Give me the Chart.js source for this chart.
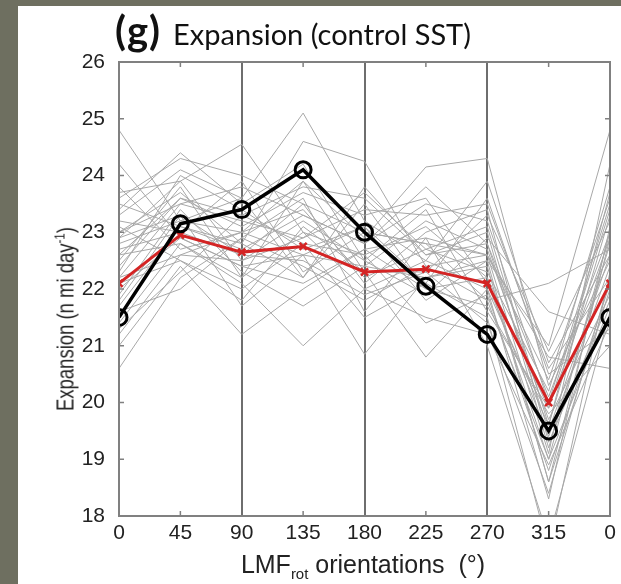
<!DOCTYPE html>
<html lang="en">
<head>
<meta charset="UTF-8">
<title>Expansion (control SST)</title>
<script src="https://cdn.jsdelivr.net/npm/chart.js@4.4.2/dist/chart.umd.min.js"></script>
<style>
  body {
    margin: 0;
    width: 621px;
    height: 584px;
    overflow: hidden;
    position: relative;
    background: #6e6f60;
    font-family: 'Liberation Sans', Arial, sans-serif;
    color: #222;
  }
  .panel { position: absolute; left: 18px; top: 6px; right: 0; bottom: 0; background: #fff; }
  .wrap { position: absolute; left: 0; top: 0; width: 621px; height: 584px; }
  .title { position: absolute; left: 115px; top: 6px; white-space: nowrap; font-family: Lato, 'Open Sans', sans-serif; color: #111; }
  .title b { font-size: 40px; font-weight: 700; letter-spacing: 1px; }
  .title span { font-size: 29px; margin-left: 12px; }
  .ylabel { position: absolute; left: 65px; top: 319px; transform: translate(-50%, -50%) rotate(-90deg) scaleX(0.77); font-size: 24px; white-space: nowrap; }
  .xlabel { position: absolute; left: 363px; top: 566px; transform: translate(-50%, -50%); font-size: 25px; white-space: nowrap; }
  .ylabel sup { font-size: 15px; }
  .xlabel sub { font-size: 15px; }
</style>
</head>
<body>
  <div class="panel"></div>
  <div class="wrap"><canvas id="chart" width="621" height="584"></canvas></div>
  <div class="title"><b>(g)</b><span>Expansion (control SST)</span></div>
  <div class="ylabel">Expansion (n mi day<sup>-1</sup>)</div>
  <div class="xlabel">LMF<sub>rot</sub> orientations &nbsp;(&deg;)</div>
<script>
// orientations (deg); 360 is labelled 0 again
const angles = [0, 45, 90, 135, 180, 225, 270, 315, 360];
const yTicks = [18, 19, 20, 21, 22, 23, 24, 25, 26];
const dividers = [90, 180, 270];

const control = [21.5, 23.15, 23.4, 24.1, 23.0, 22.05, 21.2, 19.5, 21.5];
const ensembleMean = [22.1, 22.95, 22.65, 22.75, 22.3, 22.35, 22.1, 20.0, 22.1];

// individual members (grey)
const m01 = [24.8, 23.2, 23.0, 22.6, 22.4, 22.2, 22.5, 21.0, 24.8];
const m02 = [23.6, 24.3, 24.0, 23.5, 23.0, 22.8, 22.6, 20.4, 23.6];
const m03 = [23.3, 24.1, 23.6, 25.1, 23.2, 22.5, 22.0, 19.6, 23.3];
const m04 = [22.9, 23.9, 24.55, 23.0, 22.6, 23.1, 22.2, 19.9, 22.9];
const m05 = [23.0, 23.7, 22.8, 24.6, 24.25, 22.4, 21.8, 19.0, 23.0];
const m06 = [22.5, 23.8, 22.2, 23.9, 22.9, 24.15, 24.3, 20.3, 22.5];
const m07 = [22.2, 23.5, 23.2, 22.9, 23.4, 23.3, 23.5, 20.6, 22.2];
const m08 = [21.8, 23.3, 22.6, 23.5, 22.1, 23.0, 23.4, 19.3, 21.8];
const m09 = [22.7, 23.0, 23.9, 22.3, 23.0, 22.8, 21.8, 22.1, 22.7];
const m10 = [21.2, 22.6, 22.5, 23.2, 22.5, 21.9, 22.9, 21.6, 21.2];
const m11 = [20.6, 22.2, 22.9, 22.4, 21.8, 22.4, 22.6, 20.8, 20.6];
const m12 = [21.0, 22.4, 21.2, 22.0, 22.7, 22.0, 21.7, 19.8, 21.0];
const m13 = [21.4, 22.8, 22.1, 21.0, 22.0, 21.5, 21.2, 18.9, 21.4];
const m14 = [22.0, 22.9, 22.4, 22.6, 20.85, 22.2, 22.4, 18.6, 22.0];
const m15 = [23.1, 22.5, 21.8, 23.1, 22.3, 20.8, 22.0, 18.3, 23.1];
const m16 = [22.6, 23.6, 23.3, 23.8, 23.6, 22.6, 22.8, 19.5, 22.6];
const m17 = [23.5, 23.1, 22.7, 23.3, 22.8, 23.5, 23.2, 20.0, 23.5];
const m18 = [22.3, 24.0, 23.4, 22.7, 23.1, 22.1, 21.5, 17.4, 22.3];
const m19 = [21.6, 22.0, 22.9, 23.6, 21.6, 22.9, 21.0, 17.6, 21.6];
const m20 = [22.8, 23.2, 23.6, 22.2, 23.8, 22.6, 23.0, 19.2, 22.8];
const m21 = [23.8, 22.7, 23.0, 23.4, 22.2, 22.7, 22.3, 20.2, 23.8];
const m22 = [22.1, 22.5, 22.0, 22.8, 22.6, 21.4, 21.9, 18.8, 22.1];
const m23 = [21.9, 23.4, 22.3, 21.7, 22.4, 23.2, 22.7, 19.7, 21.9];
const m24 = [23.2, 23.0, 22.6, 22.5, 21.9, 22.3, 23.3, 20.9, 23.2];
const m25 = [22.4, 23.6, 23.1, 23.7, 23.3, 23.6, 22.1, 19.4, 22.4];
const m26 = [24.2, 22.9, 22.4, 22.1, 22.7, 22.9, 22.6, 19.1, 24.2];
const m27 = [21.3, 22.3, 23.3, 22.8, 21.5, 22.1, 23.6, 20.5, 21.3];
const m28 = [22.9, 23.3, 21.7, 22.6, 23.1, 21.8, 22.5, 18.6, 22.9];
const m29 = [23.4, 24.4, 23.5, 24.2, 22.5, 23.4, 21.6, 19.9, 23.4];
const m30 = [22.6, 22.8, 22.2, 23.0, 22.0, 22.5, 23.9, 20.7, 22.6];
const m31 = [21.7, 23.1, 22.8, 22.2, 23.5, 22.0, 22.2, 19.0, 21.7];
const m32 = [23.0, 23.5, 23.8, 23.3, 22.8, 23.8, 22.8, 20.1, 23.0];
const m33 = [22.2, 22.6, 23.0, 23.9, 22.3, 22.3, 21.4, 18.4, 22.2];
const m34 = [23.7, 23.9, 22.5, 22.9, 23.7, 22.7, 23.1, 19.6, 23.7];
const members = [m01, m02, m03, m04, m05, m06, m07, m08, m09, m10, m11, m12,
  m13, m14, m15, m16, m17, m18, m19, m20, m21, m22, m23, m24,
  m25, m26, m27, m28, m29, m30, m31, m32, m33, m34];

const toPoints = vals => vals.map((v, i) => ({ x: angles[i], y: v }));

// box, inward tick marks (MATLAB style)
const framePlugin = {
  id: 'frame',
  afterDraw(chart) {
    const { ctx, chartArea: a, scales: { x, y } } = chart;
    ctx.save();
    ctx.strokeStyle = '#808080';
    ctx.lineWidth = 1.5;
    ctx.beginPath();
    y.ticks.forEach(t => {
      const py = y.getPixelForValue(t.value);
      ctx.moveTo(a.left, py); ctx.lineTo(a.left + 5, py);
      ctx.moveTo(a.right, py); ctx.lineTo(a.right - 5, py);
    });
    x.ticks.forEach(t => {
      if (dividers.includes(t.value) || t.value === x.min || t.value === x.max) return;
      const px = x.getPixelForValue(t.value);
      ctx.moveTo(px, a.top); ctx.lineTo(px, a.top + 5);
      ctx.moveTo(px, a.bottom); ctx.lineTo(px, a.bottom - 5);
    });
    ctx.stroke();
    ctx.lineWidth = 2;
    ctx.strokeRect(a.left, a.top, a.right - a.left, a.bottom - a.top);
    ctx.restore();
  }
};

const datasets = [
  {
    data: toPoints(control), borderColor: '#000', borderWidth: 3.5,
    pointStyle: 'circle', pointRadius: 8, pointBorderWidth: 3,
    pointBorderColor: '#000', pointBackgroundColor: 'rgba(0,0,0,0)'
  },
  {
    data: toPoints(ensembleMean), borderColor: '#d42424', borderWidth: 3,
    pointStyle: 'crossRot', pointRadius: 5, pointBorderWidth: 2.5,
    pointBorderColor: '#d42424'
  }
];
members.forEach(m => datasets.push({
  data: toPoints(m), borderColor: '#a8a8a8', borderWidth: 1, pointRadius: 0
}));

const font = { family: "'Liberation Sans', Arial, sans-serif", size: 21 };

new Chart(document.getElementById('chart'), {
  type: 'line',
  data: { datasets },
  options: {
    responsive: false,
    animation: false,
    events: [],
    layout: { padding: { left: 0, top: 62, right: 6, bottom: 0 } },
    plugins: { legend: { display: false }, tooltip: { enabled: false } },
    scales: {
      x: {
        type: 'linear', min: 0, max: 360,
        afterFit: s => { s.height = 68; s.paddingLeft = 0; s.paddingRight = 0; },
        afterBuildTicks: s => { s.ticks = angles.map(v => ({ value: v })); },
        ticks: {
          autoSkip: false, maxRotation: 0, padding: 5, color: '#222', font,
          callback: v => (v === 360 ? '0' : String(v))
        },
        grid: {
          drawTicks: false, lineWidth: 2,
          color: c => (c.tick && dividers.includes(c.tick.value) ? '#6e6e6e' : 'rgba(0,0,0,0)')
        },
        border: { display: false }
      },
      y: {
        min: 18, max: 26,
        afterFit: s => { s.width = 119; s.paddingTop = 0; s.paddingBottom = 0; },
        afterBuildTicks: s => { s.ticks = yTicks.map(v => ({ value: v })); },
        ticks: { padding: 6, color: '#222', font },
        grid: { display: false },
        border: { display: false }
      }
    }
  },
  plugins: [framePlugin]
});
</script>
</body>
</html>
